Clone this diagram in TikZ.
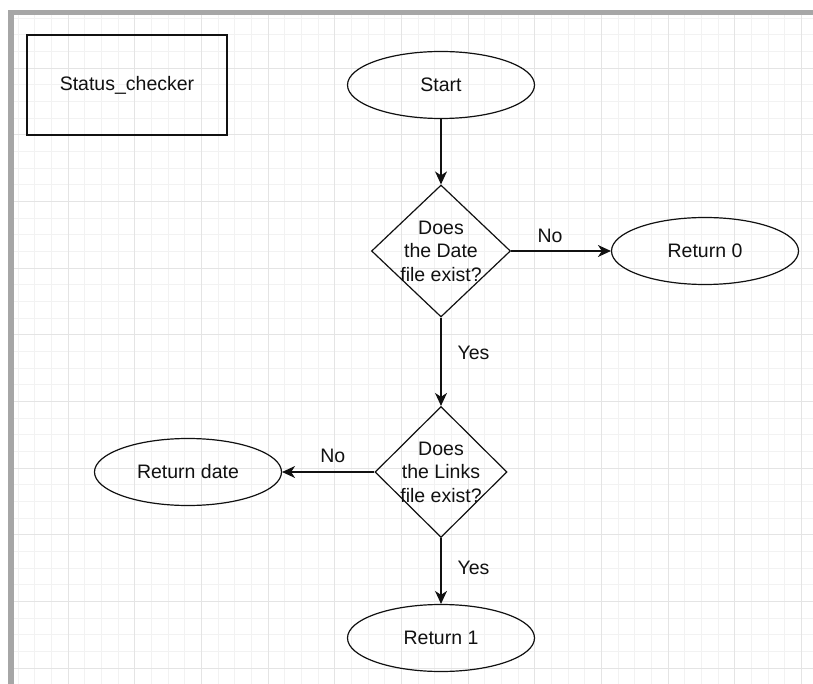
\documentclass[tikz,border=0pt]{standalone}
\usepackage{fontspec}
\setmainfont{Liberation Sans}
\usetikzlibrary{shapes.geometric,arrows.meta}

\definecolor{framegray}{HTML}{A6A6A6}
\definecolor{minorgray}{HTML}{F2F2F2}
\definecolor{majorgray}{HTML}{E4E4E4}
\definecolor{inkblack}{HTML}{111111}

\tikzset{
    box/.style={draw=inkblack, line width=1.2pt, minimum width=200pt, minimum height=100pt, inner sep=0pt},
    oval/.style={draw=inkblack, ellipse, line width=1.2pt, minimum width=187pt, minimum height=67pt, inner sep=0pt},
    decision/.style={draw=inkblack, diamond, line width=1.2pt, inner sep=0pt},
    flow/.style={draw=inkblack, line width=1.2pt, -{Stealth[length=13pt, width=12pt, inset=4pt]}},
    lbl/.style={inner sep=2pt, text=inkblack},
    minorline/.style={draw=minorgray, line width=0.8pt},
    majorline/.style={draw=majorgray, line width=0.9pt},
}

\begin{document}
\begin{tikzpicture}[x=1pt, y=-1pt, font=\fontsize{19.5}{23.4}\selectfont, text=inkblack]
        \useasboundingbox (0,0) rectangle (813,684);
        \fill[white] (0,0) rectangle (813,684);

        % background grid
        \foreach \k in {1,...,48}
            \draw[minorline] ({1.33+16.667*\k},15) -- ({1.33+16.667*\k},684);
        \foreach \k in {1,...,40}
            \draw[minorline] (14,{1.33+16.667*\k}) -- (813,{1.33+16.667*\k});
        \foreach \k in {4,8,...,48}
            \draw[majorline] ({1.33+16.667*\k},15) -- ({1.33+16.667*\k},684);
        \foreach \k in {4,8,...,40}
            \draw[majorline] (14,{1.33+16.667*\k}) -- (813,{1.33+16.667*\k});

        % frame
        \fill[framegray] (8,10) rectangle (813,15);
        \fill[framegray] (8,10) rectangle (14,684);

        \node[box] (checker) at (127,85) {Status\_checker};
        \node[oval] (start) at (441,85) {Start};
        \node[decision, minimum width=139pt, minimum height=132pt,
            label={[align=center]center:Does\\the Date\\file exist?}] (datefile) at (441,251) {};
        \node[oval] (zero) at (705,251) {Return 0};
        \node[decision, minimum width=132pt, minimum height=131pt,
            label={[align=center]center:Does\\the Links\\file exist?}] (linksfile) at (441,472) {};
        \node[oval] (date) at (188,472) {Return date};
        \node[oval] (one) at (441,638) {Return 1};

        \draw[flow] (start) -- (datefile);
        \draw[flow] (datefile) -- node[lbl, above=6pt, pos=0.39] {No} (zero);
        \draw[flow] (datefile) -- node[lbl, right=14pt, pos=0.4] {Yes} (linksfile);
        \draw[flow] (linksfile) -- node[lbl, above=7pt, pos=0.45] {No} (date);
        \draw[flow] (linksfile) -- node[lbl, right=14pt, pos=0.46] {Yes} (one);
    \end{tikzpicture}
\end{document}
